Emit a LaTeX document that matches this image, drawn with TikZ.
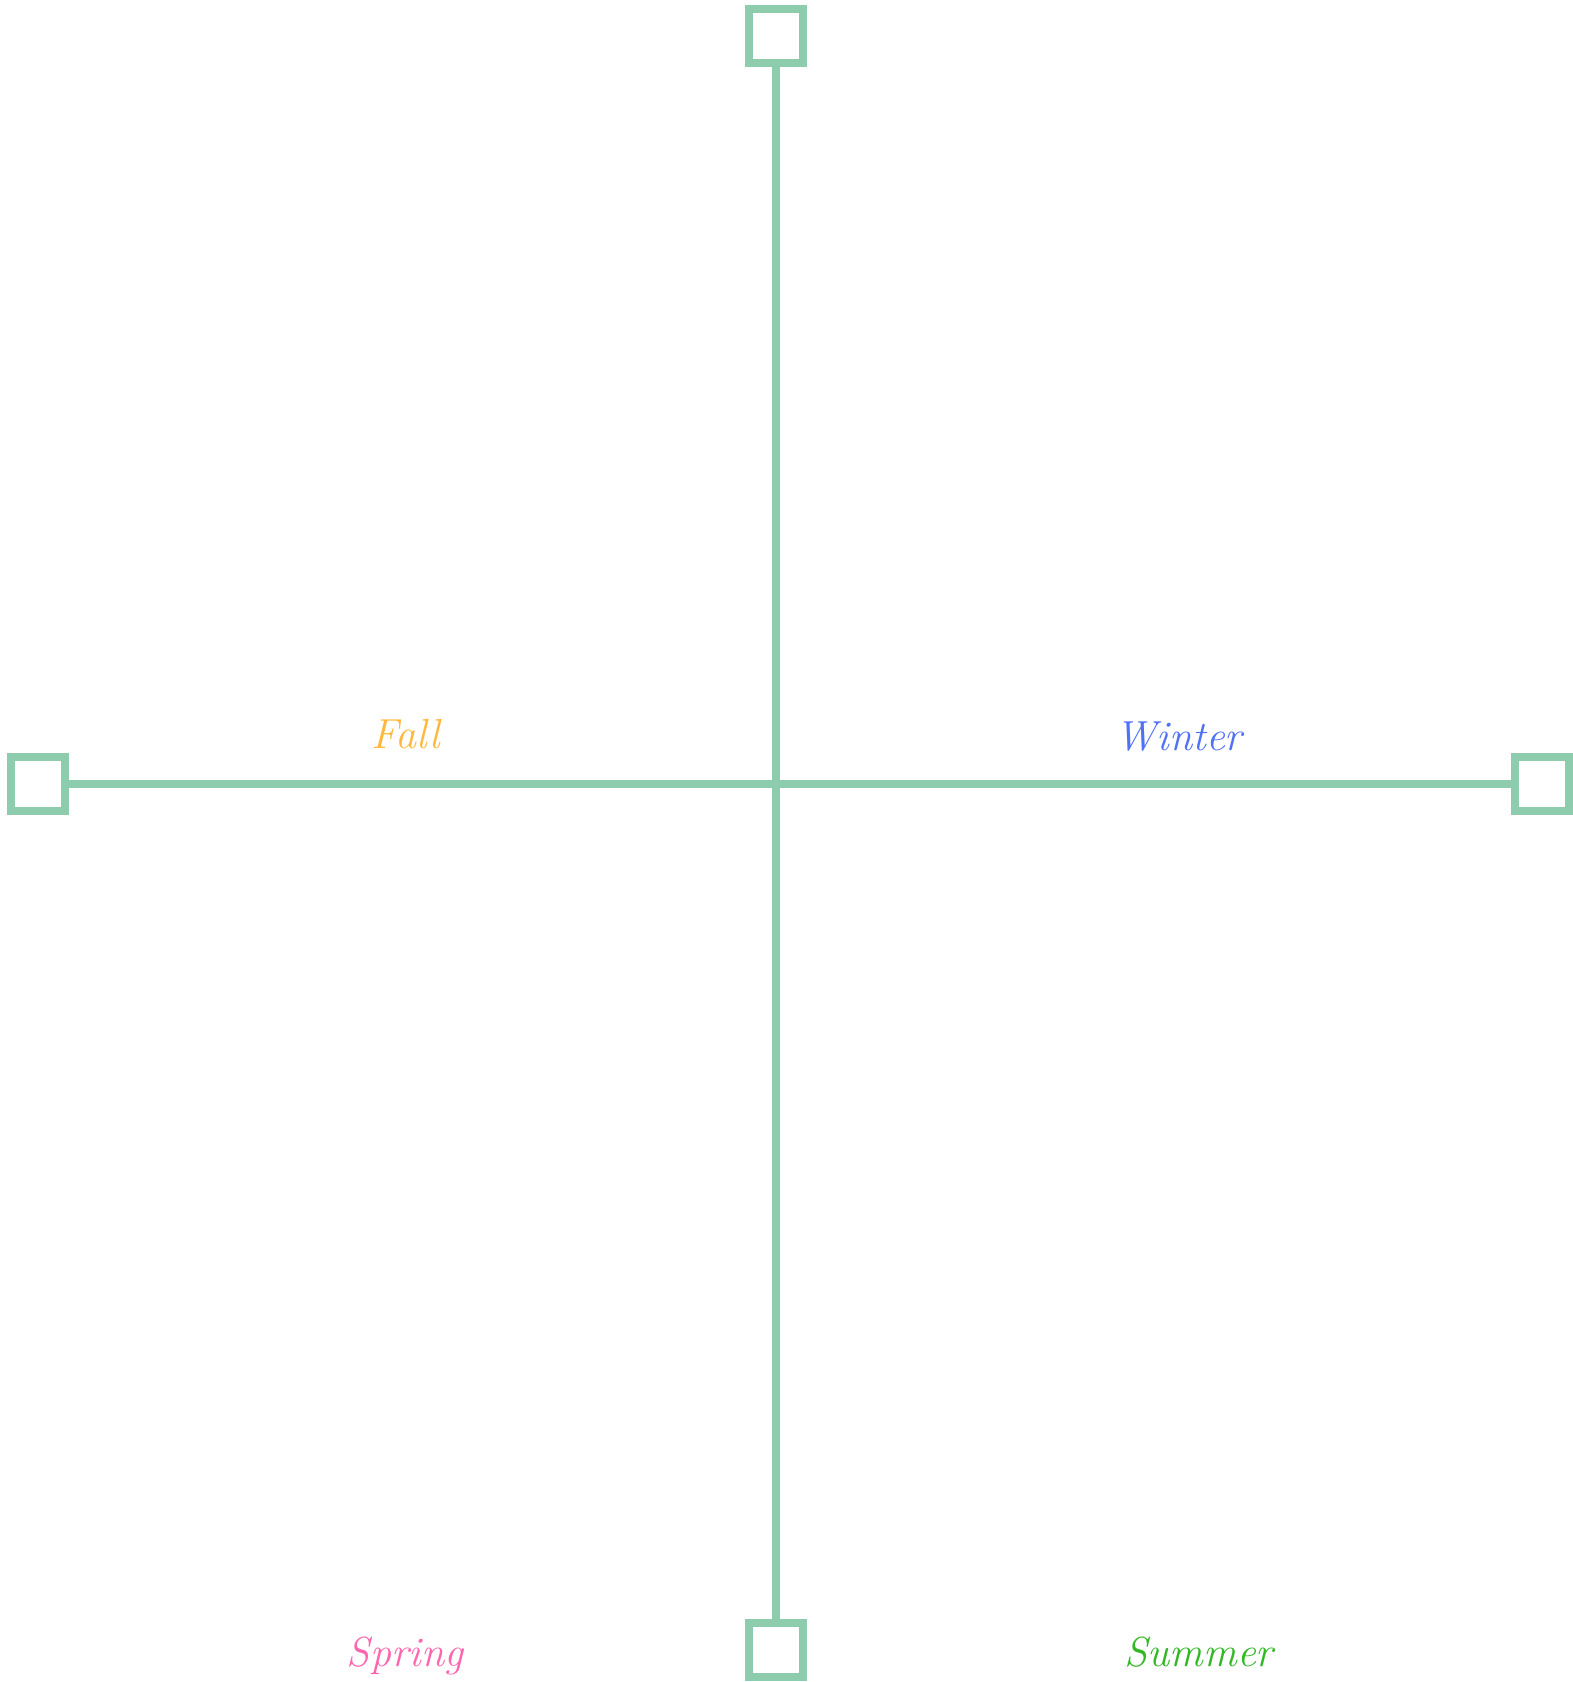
\documentclass[tikz,border=0pt]{standalone}
\usepackage{tikz}
\definecolor{axisgreen}{HTML}{8DCDAE}
\definecolor{fallcol}{HTML}{FFB83D}
\definecolor{wintercol}{HTML}{5070F5}
\definecolor{springcol}{HTML}{FF66B0}
\definecolor{summercol}{HTML}{33B824}
\tikzset{
  axisline/.style={draw=axisgreen, line width=4.2pt},
  endbox/.style={draw=axisgreen, line width=3.8pt, minimum size=27.2pt, inner sep=0pt, fill=white},
  season/.style={anchor=base, font=\fontsize{21}{24}\selectfont\itshape}
}
\begin{document}
\begin{tikzpicture}[x=0.5pt, y=-0.5pt]
    \useasboundingbox (0,0) rectangle (1573,1682);
    \node[endbox] (top) at (776,36) {};
    \node[endbox] (bottom) at (776,1650) {};
    \node[endbox] (left) at (38,784) {};
    \node[endbox] (right) at (1542,784) {};
    \draw[axisline] (top.south) -- (bottom.north);
    \draw[axisline] (left.east) -- (right.west);
    \node[season, text=fallcol] (fall) at (406,748) {Fall};
    \node[season, text=wintercol] (winter) at (1179,750) {Winter};
    \node[season, text=springcol] (spring) at (405,1666) {Spring};
    \node[season, text=summercol] (summer) at (1199,1666) {Summer};
  \end{tikzpicture}
\end{document}
